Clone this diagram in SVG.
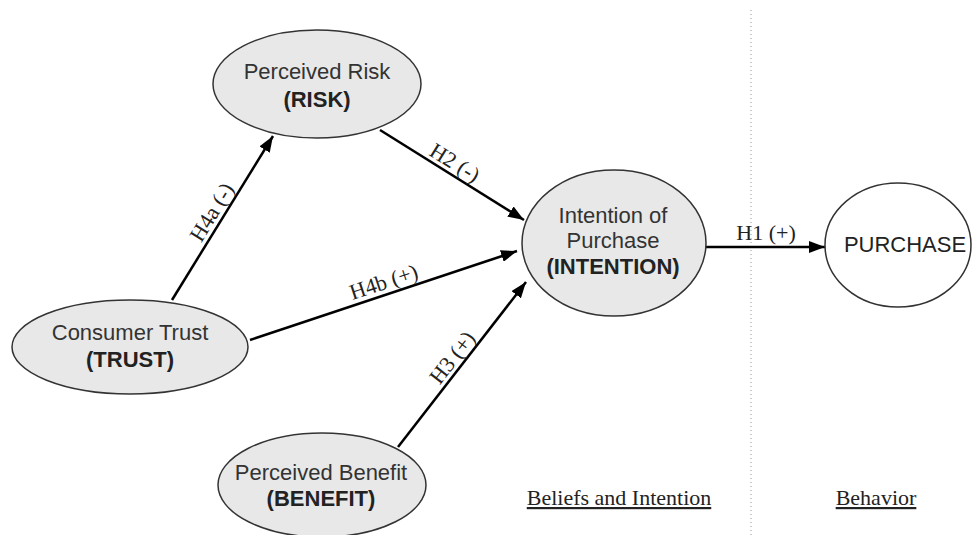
<svg xmlns="http://www.w3.org/2000/svg" width="975" height="535" viewBox="0 0 975 535">
<defs>
<marker id="arr" viewBox="0 0 16 12" refX="16" refY="6" markerWidth="16" markerHeight="12" markerUnits="userSpaceOnUse" orient="auto">
<path d="M0,0 L16,6 L0,12 z" fill="#000"/>
</marker>
<style>
.node{fill:#e8e8e8;stroke:#333;stroke-width:1.5}
.white{fill:#fff;stroke:#333;stroke-width:1.5}
.nt{font-family:"Liberation Sans",Arial,sans-serif;font-size:22px;fill:#333;text-anchor:middle}
.b{font-weight:bold;fill:#222}
.edge{stroke:#000;stroke-width:2.5;fill:none;marker-end:url(#arr)}
.lbl{font-family:"Liberation Serif","Times New Roman",serif;font-size:22px;fill:#222;text-anchor:middle}
</style>
</defs>
<rect width="975" height="535" fill="#fff"/>
<line x1="751" y1="10" x2="751" y2="535" stroke="#bbb" stroke-width="1.5" stroke-dasharray="1 3"/>
<g id="connectors">
<line class="edge" x1="172" y1="300" x2="273" y2="136"/>
<line class="edge" x1="380" y1="130" x2="524" y2="220"/>
<line class="edge" x1="250" y1="340" x2="517" y2="251"/>
<line class="edge" x1="398" y1="447" x2="526" y2="282"/>
<line class="edge" x1="706" y1="247" x2="825" y2="247"/>
<text class="lbl" transform="translate(218,216) rotate(-58.5)">H4a (-)</text>
<text class="lbl" transform="translate(451,169) rotate(31.8)">H2 (-)</text>
<text class="lbl" transform="translate(386,289) rotate(-18.4)">H4b (+)</text>
<text class="lbl" transform="translate(458,362) rotate(-52.2)">H3 (+)</text>
<text class="lbl" x="766" y="240">H1 (+)</text>
</g>
<g id="risk">
<ellipse class="node" cx="317" cy="84" rx="104" ry="54"/>
<text class="nt" x="317" y="79">Perceived Risk</text>
<text class="nt b" x="317" y="107">(RISK)</text>
</g>
<g id="intention">
<ellipse class="node" cx="614" cy="243" rx="92" ry="73"/>
<text class="nt" x="613" y="223">Intention of</text>
<text class="nt" x="613" y="248">Purchase</text>
<text class="nt b" x="613" y="274">(INTENTION)</text>
</g>
<g id="purchase">
<ellipse class="white" cx="898" cy="245" rx="73" ry="62"/>
<text class="nt b" x="905" y="252" style="font-weight:normal;fill:#222">PURCHASE</text>
</g>
<g id="trust">
<ellipse class="node" cx="130" cy="347" rx="118" ry="47"/>
<text class="nt" x="130" y="340">Consumer Trust</text>
<text class="nt b" x="130" y="367">(TRUST)</text>
</g>
<g id="benefit">
<ellipse class="node" cx="322" cy="485" rx="104" ry="52"/>
<text class="nt" x="321" y="480">Perceived Benefit</text>
<text class="nt b" x="321" y="506">(BENEFIT)</text>
</g>
<g id="sections">
<text class="lbl" x="619" y="505" text-decoration="underline">Beliefs and Intention</text>
<text class="lbl" x="876" y="505" text-decoration="underline">Behavior</text>
</g>
</svg>
